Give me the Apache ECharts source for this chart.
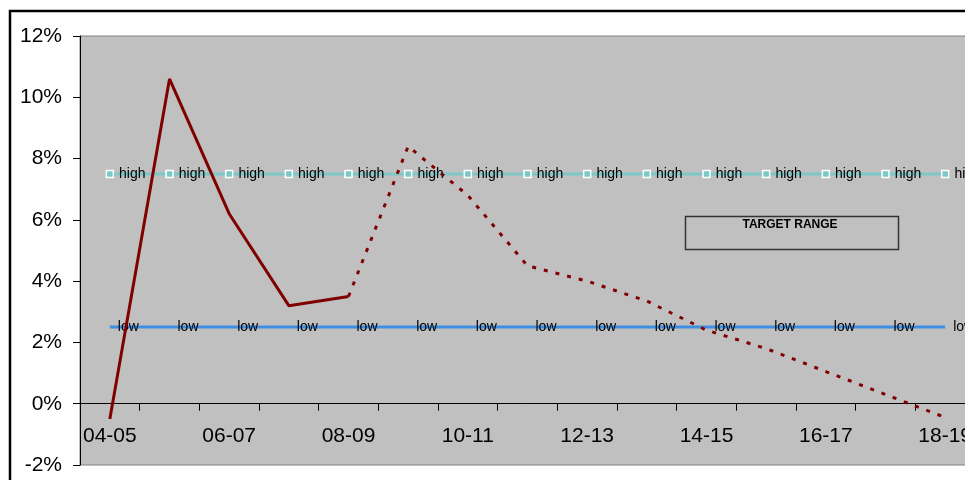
<!DOCTYPE html>
<html>
<head>
<meta charset="utf-8">
<title>Target range</title>
<script src="https://cdn.jsdelivr.net/npm/echarts@6/dist/echarts.min.js"></script>
<style>
  html, body { margin: 0; padding: 0; background: #ffffff; }
  #chart { width: 965px; height: 480px; }
</style>
</head>
<body>
<div id="chart"></div>
<script>
// Financial years on the category axis
const years = ['04-05', '05-06', '06-07', '07-08', '08-09', '09-10', '10-11', '11-12',
               '12-13', '13-14', '14-15', '15-16', '16-17', '17-18', '18-19'];

// Outturn (solid) and projection (dotted), in percent
const actual = [-0.5, 10.6, 6.2, 3.2, 3.5, null, null, null, null, null, null, null, null, null, null];
const projected = [null, null, null, null, 3.5, 8.4, 6.8, 4.5, 4.0, 3.35, 2.4, 1.8, 1.05, 0.3, -0.45];

// Upper and lower bounds of the target range
const high = [7.5, 7.5, 7.5, 7.5, 7.5, 7.5, 7.5, 7.5, 7.5, 7.5, 7.5, 7.5, 7.5, 7.5, 7.5];
const low = [2.5, 2.5, 2.5, 2.5, 2.5, 2.5, 2.5, 2.5, 2.5, 2.5, 2.5, 2.5, 2.5, 2.5, 2.5];

// Value-axis range
const Y_MIN = -2, Y_MAX = 12, Y_STEP = 2;

const FONT = "'Liberation Sans', Arial, sans-serif";

// Plot box geometry (pixels)
const GRID = { left: 80, top: 36, width: 895, height: 429 };
// Lift the category axis so it sits on the 0% line
const xAxisOffset = -GRID.height * (0 - Y_MIN) / (Y_MAX - Y_MIN);

const chart = echarts.init(document.getElementById('chart'), null, { renderer: 'canvas' });

chart.setOption({
  animation: false,
  backgroundColor: '#ffffff',
  textStyle: { fontFamily: FONT },
  grid: {
    show: true,
    left: GRID.left,
    top: GRID.top,
    width: GRID.width,
    height: GRID.height,
    containLabel: false,
    outerBoundsMode: 'none',
    backgroundColor: '#C0C0C0',
    borderColor: '#808080',
    borderWidth: 1
  },
  xAxis: {
    type: 'category',
    data: years,
    boundaryGap: true,
    position: 'bottom',
    offset: xAxisOffset,
    axisLine: { onZero: false, lineStyle: { color: '#000000', width: 1 } },
    axisTick: { show: true, interval: 0, length: 7, lineStyle: { color: '#000000' } },
    axisLabel: {
      interval: 1,
      margin: 22,
      fontSize: 21,
      color: '#000000',
      fontFamily: FONT
    },
    splitLine: { show: false }
  },
  yAxis: {
    type: 'value',
    min: Y_MIN,
    max: Y_MAX,
    interval: Y_STEP,
    axisLine: { show: true, lineStyle: { color: '#000000', width: 1 } },
    axisTick: { show: true, length: 7, lineStyle: { color: '#000000' } },
    axisLabel: {
      margin: 18,
      fontSize: 21,
      color: '#000000',
      fontFamily: FONT,
      formatter: v => v + '%'
    },
    splitLine: { show: false }
  },
  series: [
    {
      name: 'high',
      type: 'line',
      data: high,
      z: 2,
      symbol: 'rect',
      symbolSize: 7,
      lineStyle: { color: '#7CC8C8', width: 3 },
      itemStyle: { color: '#7CC8C8', borderColor: '#ffffff', borderWidth: 1.5 },
      label: {
        show: true,
        position: 'right',
        distance: 5,
        formatter: 'high',
        fontSize: 14,
        color: '#000000',
        fontFamily: FONT
      }
    },
    {
      name: 'low',
      type: 'line',
      data: low,
      z: 2,
      symbol: 'rect',
      symbolSize: 0,
      lineStyle: { color: '#3E8FE2', width: 3 },
      itemStyle: { color: '#3E8FE2' },
      label: {
        show: true,
        position: 'right',
        distance: 8,
        formatter: 'low',
        fontSize: 14,
        color: '#000000',
        fontFamily: FONT
      }
    },
    {
      name: 'actual',
      type: 'line',
      data: actual,
      z: 3,
      symbol: 'none',
      connectNulls: false,
      lineStyle: { color: '#800000', width: 3 }
    },
    {
      name: 'projected',
      type: 'line',
      data: projected,
      z: 3,
      symbol: 'none',
      connectNulls: false,
      lineStyle: { color: '#800000', width: 3, type: [4, 8] }
    }
  ],
  graphic: [
    {
      type: 'rect',
      left: 683,
      top: 214,
      shape: { x: 0, y: 0, width: 213, height: 33 },
      style: { fill: 'none', stroke: '#333333', lineWidth: 1.5 },
      z: 10
    },
    {
      type: 'text',
      x: 790,
      y: 225,
      style: {
        text: 'TARGET RANGE',
        fill: '#000000',
        font: 'bold 12px ' + FONT,
        textAlign: 'center',
        textVerticalAlign: 'middle'
      },
      z: 10
    },
    {
      type: 'rect',
      shape: { x: 10, y: 11, width: 1000, height: 1000 },
      style: { fill: 'none', stroke: '#000000', lineWidth: 2.5 },
      z: 10
    }
  ]
});
</script>
</body>
</html>
